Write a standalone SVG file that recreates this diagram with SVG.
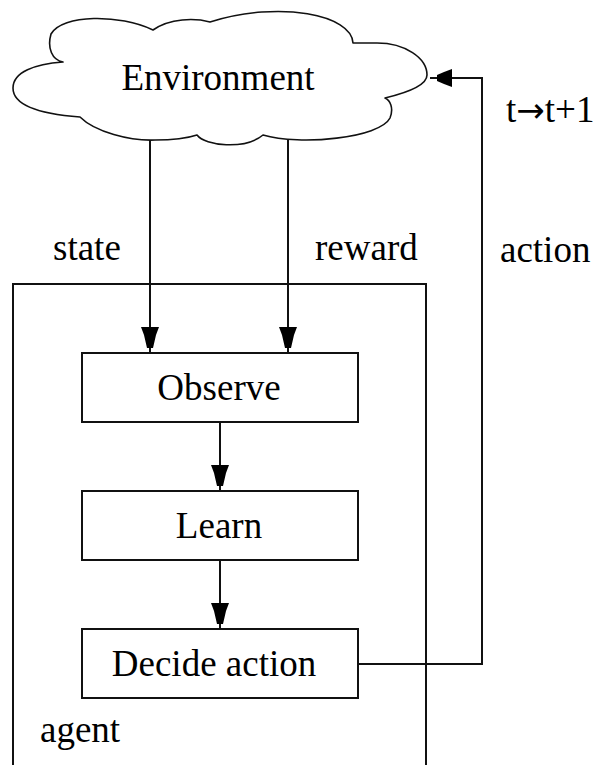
<svg xmlns="http://www.w3.org/2000/svg" width="602" height="765" viewBox="0 0 602 765">
  <style>
    text { font-family: "Liberation Serif", Tinos, "Times New Roman", Times, serif; font-size: 37px; fill: #000; }
    .mid { text-anchor: middle; }
    .arrowglyph { font-family: "DejaVu Sans", sans-serif; font-size: 34px; }
    .box { fill: #fff; stroke: #111; stroke-width: 2; }
    .edge { fill: none; stroke: #111; stroke-width: 2; }
    .head { fill: #000; stroke: none; }
  </style>

  <!-- agent frame (open at the bottom of the page) -->
  <g id="agent">
    <rect x="13" y="284" width="413" height="520" fill="none" stroke="#111" stroke-width="2"/>
    <text x="40" y="742">agent</text>
  </g>

  <!-- connectors -->
  <g id="connectors">
    <path class="edge" d="M150,120 V353"/>
    <path class="head" d="M141,327 H159 L156,335 L153,348 H147 L144,335 Z"/>
    <path class="edge" d="M288,120 V353"/>
    <path class="head" d="M279,327 H297 L294,335 L291,348 H285 L282,335 Z"/>
    <path class="edge" d="M220,422 V491"/>
    <path class="head" d="M211,465 H229 L226,473 L223,486 H217 L214,473 Z"/>
    <path class="edge" d="M220,560 V629"/>
    <path class="head" d="M211,603 H229 L226,611 L223,624 H217 L214,611 Z"/>
    <path class="edge" d="M358,664 H482 V78 H430"/>
    <path class="head" d="M452,69 V87 L444,84 L437,81 V75 L444,72 Z"/>
  </g>

  <!-- environment cloud -->
  <g id="environment">
    <path fill="#fff" stroke="#111" stroke-width="1.6" stroke-linejoin="round"
      d="M63,62 C35,64 13,72 13,88 C13,105 40,114 80,117
         C95,132 130,141 155,140 C175,140 188,138 197,135
         C205,146 245,150 263,135
         C300,146 380,138 390,118 C394,108 390,100 385,98
         C410,92 427,85 427,75 C427,58 405,43 377,43 L353,43
         C352,15 280,0 210,22
         C195,18 170,18 153,30
         C120,14 62,14 51,34 C47,48 52,60 63,62 Z"/>
    <text class="mid" x="218" y="90">Environment</text>
  </g>

  <g id="observe">
    <rect class="box" x="82" y="353" width="276" height="69"/>
    <text class="mid" x="219" y="400">Observe</text>
  </g>
  <g id="learn">
    <rect class="box" x="82" y="491" width="276" height="69"/>
    <text class="mid" x="219" y="538">Learn</text>
  </g>
  <g id="decide">
    <rect class="box" x="82" y="629" width="276" height="69"/>
    <text class="mid" x="214" y="676">Decide action</text>
  </g>

  <!-- edge labels -->
  <g id="labels">
    <text x="53" y="260">state</text>
    <text x="315" y="260">reward</text>
    <text x="500" y="262">action</text>
    <text x="506" y="122">t<tspan class="arrowglyph">→</tspan>t+1</text>
  </g>
</svg>
